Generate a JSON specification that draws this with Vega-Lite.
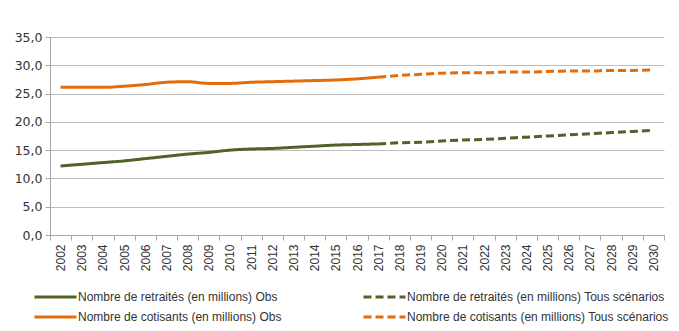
{
  "$schema": "https://vega.github.io/schema/vega-lite/v6.json",
  "width": 614,
  "height": 198,
  "autosize": "none",
  "padding": {"left": 50, "top": 37, "right": 15, "bottom": 96},
  "background": "white",
  "data": {
    "values": [
      {"annee": "2002", "serie": "Nombre de retraités (en millions) Obs", "valeur": 12.2},
      {"annee": "2003", "serie": "Nombre de retraités (en millions) Obs", "valeur": 12.5},
      {"annee": "2004", "serie": "Nombre de retraités (en millions) Obs", "valeur": 12.8},
      {"annee": "2005", "serie": "Nombre de retraités (en millions) Obs", "valeur": 13.1},
      {"annee": "2006", "serie": "Nombre de retraités (en millions) Obs", "valeur": 13.5},
      {"annee": "2007", "serie": "Nombre de retraités (en millions) Obs", "valeur": 13.9},
      {"annee": "2008", "serie": "Nombre de retraités (en millions) Obs", "valeur": 14.3},
      {"annee": "2009", "serie": "Nombre de retraités (en millions) Obs", "valeur": 14.6},
      {"annee": "2010", "serie": "Nombre de retraités (en millions) Obs", "valeur": 15.0},
      {"annee": "2011", "serie": "Nombre de retraités (en millions) Obs", "valeur": 15.2},
      {"annee": "2012", "serie": "Nombre de retraités (en millions) Obs", "valeur": 15.3},
      {"annee": "2013", "serie": "Nombre de retraités (en millions) Obs", "valeur": 15.5},
      {"annee": "2014", "serie": "Nombre de retraités (en millions) Obs", "valeur": 15.7},
      {"annee": "2015", "serie": "Nombre de retraités (en millions) Obs", "valeur": 15.9},
      {"annee": "2016", "serie": "Nombre de retraités (en millions) Obs", "valeur": 16.0},
      {"annee": "2017", "serie": "Nombre de retraités (en millions) Obs", "valeur": 16.1},
      {"annee": "2017", "serie": "Nombre de retraités (en millions) Tous scénarios", "valeur": 16.1},
      {"annee": "2018", "serie": "Nombre de retraités (en millions) Tous scénarios", "valeur": 16.3},
      {"annee": "2019", "serie": "Nombre de retraités (en millions) Tous scénarios", "valeur": 16.4},
      {"annee": "2020", "serie": "Nombre de retraités (en millions) Tous scénarios", "valeur": 16.6},
      {"annee": "2021", "serie": "Nombre de retraités (en millions) Tous scénarios", "valeur": 16.8},
      {"annee": "2022", "serie": "Nombre de retraités (en millions) Tous scénarios", "valeur": 16.9},
      {"annee": "2023", "serie": "Nombre de retraités (en millions) Tous scénarios", "valeur": 17.1},
      {"annee": "2024", "serie": "Nombre de retraités (en millions) Tous scénarios", "valeur": 17.3},
      {"annee": "2025", "serie": "Nombre de retraités (en millions) Tous scénarios", "valeur": 17.5},
      {"annee": "2026", "serie": "Nombre de retraités (en millions) Tous scénarios", "valeur": 17.7},
      {"annee": "2027", "serie": "Nombre de retraités (en millions) Tous scénarios", "valeur": 17.9},
      {"annee": "2028", "serie": "Nombre de retraités (en millions) Tous scénarios", "valeur": 18.1},
      {"annee": "2029", "serie": "Nombre de retraités (en millions) Tous scénarios", "valeur": 18.3},
      {"annee": "2030", "serie": "Nombre de retraités (en millions) Tous scénarios", "valeur": 18.5},
      {"annee": "2002", "serie": "Nombre de cotisants (en millions) Obs", "valeur": 26.1},
      {"annee": "2003", "serie": "Nombre de cotisants (en millions) Obs", "valeur": 26.1},
      {"annee": "2004", "serie": "Nombre de cotisants (en millions) Obs", "valeur": 26.1},
      {"annee": "2005", "serie": "Nombre de cotisants (en millions) Obs", "valeur": 26.3},
      {"annee": "2006", "serie": "Nombre de cotisants (en millions) Obs", "valeur": 26.6},
      {"annee": "2007", "serie": "Nombre de cotisants (en millions) Obs", "valeur": 27.0},
      {"annee": "2008", "serie": "Nombre de cotisants (en millions) Obs", "valeur": 27.1},
      {"annee": "2009", "serie": "Nombre de cotisants (en millions) Obs", "valeur": 26.8},
      {"annee": "2010", "serie": "Nombre de cotisants (en millions) Obs", "valeur": 26.8},
      {"annee": "2011", "serie": "Nombre de cotisants (en millions) Obs", "valeur": 27.0},
      {"annee": "2012", "serie": "Nombre de cotisants (en millions) Obs", "valeur": 27.1},
      {"annee": "2013", "serie": "Nombre de cotisants (en millions) Obs", "valeur": 27.2},
      {"annee": "2014", "serie": "Nombre de cotisants (en millions) Obs", "valeur": 27.3},
      {"annee": "2015", "serie": "Nombre de cotisants (en millions) Obs", "valeur": 27.4},
      {"annee": "2016", "serie": "Nombre de cotisants (en millions) Obs", "valeur": 27.6},
      {"annee": "2017", "serie": "Nombre de cotisants (en millions) Obs", "valeur": 27.9},
      {"annee": "2017", "serie": "Nombre de cotisants (en millions) Tous scénarios", "valeur": 27.9},
      {"annee": "2018", "serie": "Nombre de cotisants (en millions) Tous scénarios", "valeur": 28.2},
      {"annee": "2019", "serie": "Nombre de cotisants (en millions) Tous scénarios", "valeur": 28.4},
      {"annee": "2020", "serie": "Nombre de cotisants (en millions) Tous scénarios", "valeur": 28.6},
      {"annee": "2021", "serie": "Nombre de cotisants (en millions) Tous scénarios", "valeur": 28.7},
      {"annee": "2022", "serie": "Nombre de cotisants (en millions) Tous scénarios", "valeur": 28.7},
      {"annee": "2023", "serie": "Nombre de cotisants (en millions) Tous scénarios", "valeur": 28.8},
      {"annee": "2024", "serie": "Nombre de cotisants (en millions) Tous scénarios", "valeur": 28.8},
      {"annee": "2025", "serie": "Nombre de cotisants (en millions) Tous scénarios", "valeur": 28.9},
      {"annee": "2026", "serie": "Nombre de cotisants (en millions) Tous scénarios", "valeur": 29.0},
      {"annee": "2027", "serie": "Nombre de cotisants (en millions) Tous scénarios", "valeur": 29.0},
      {"annee": "2028", "serie": "Nombre de cotisants (en millions) Tous scénarios", "valeur": 29.1},
      {"annee": "2029", "serie": "Nombre de cotisants (en millions) Tous scénarios", "valeur": 29.1},
      {"annee": "2030", "serie": "Nombre de cotisants (en millions) Tous scénarios", "valeur": 29.2}
    ]
  },
  "mark": {"type": "line", "strokeWidth": 3, "interpolate": "monotone"},
  "encoding": {
    "x": {
      "field": "annee",
      "type": "ordinal",
      "bandPosition": 0.5,
      "scale": {"type": "band", "paddingInner": 0, "paddingOuter": 0},
      "axis": {
        "title": null,
        "labelAngle": -90,
        "tickBand": "extent",
        "tickSize": 5,
        "labelPadding": 4,
        "domainColor": "#A6A6A6",
        "tickColor": "#A6A6A6",
        "labelFont": "Liberation Sans",
        "labelFontSize": 12,
        "labelColor": "#333333",
        "grid": false
      }
    },
    "y": {
      "field": "valeur",
      "type": "quantitative",
      "scale": {"domain": [0, 35], "nice": false},
      "axis": {
        "title": null,
        "values": [0, 5, 10, 15, 20, 25, 30, 35],
        "labelExpr": "replace(format(datum.value, '.1f'), '.', ',')",
        "tickSize": 5,
        "labelPadding": 3,
        "domainColor": "#A6A6A6",
        "tickColor": "#A6A6A6",
        "gridColor": "#BDBDBD",
        "labelFont": "DejaVu Sans",
        "labelFontSize": 12.5,
        "labelColor": "#333333"
      }
    },
    "color": {
      "field": "serie",
      "type": "nominal",
      "title": null,
      "scale": {
        "domain": [
          "Nombre de retraités (en millions) Obs",
          "Nombre de cotisants (en millions) Obs",
          "Nombre de retraités (en millions) Tous scénarios",
          "Nombre de cotisants (en millions) Tous scénarios"
        ],
        "range": ["#4F6228", "#E46C0A", "#4F6228", "#E46C0A"]
      }
    },
    "strokeDash": {
      "field": "serie",
      "type": "nominal",
      "title": null,
      "scale": {
        "domain": [
          "Nombre de retraités (en millions) Obs",
          "Nombre de cotisants (en millions) Obs",
          "Nombre de retraités (en millions) Tous scénarios",
          "Nombre de cotisants (en millions) Tous scénarios"
        ],
        "range": [[1, 0], [1, 0], [8, 4], [8, 4]]
      }
    }
  },
  "config": {
    "view": {"stroke": null},
    "legend": {
      "orient": "none",
      "legendX": -17,
      "legendY": 253,
      "columns": 2,
      "columnPadding": 80,
      "rowPadding": 6,
      "padding": 0,
      "symbolType": "stroke",
      "symbolSize": 1764,
      "symbolStrokeWidth": 3,
      "clipHeight": 14,
      "labelFont": "Liberation Sans",
      "labelFontSize": 12,
      "labelColor": "#333333",
      "labelOffset": 0,
      "labelLimit": 400
    }
  }
}
